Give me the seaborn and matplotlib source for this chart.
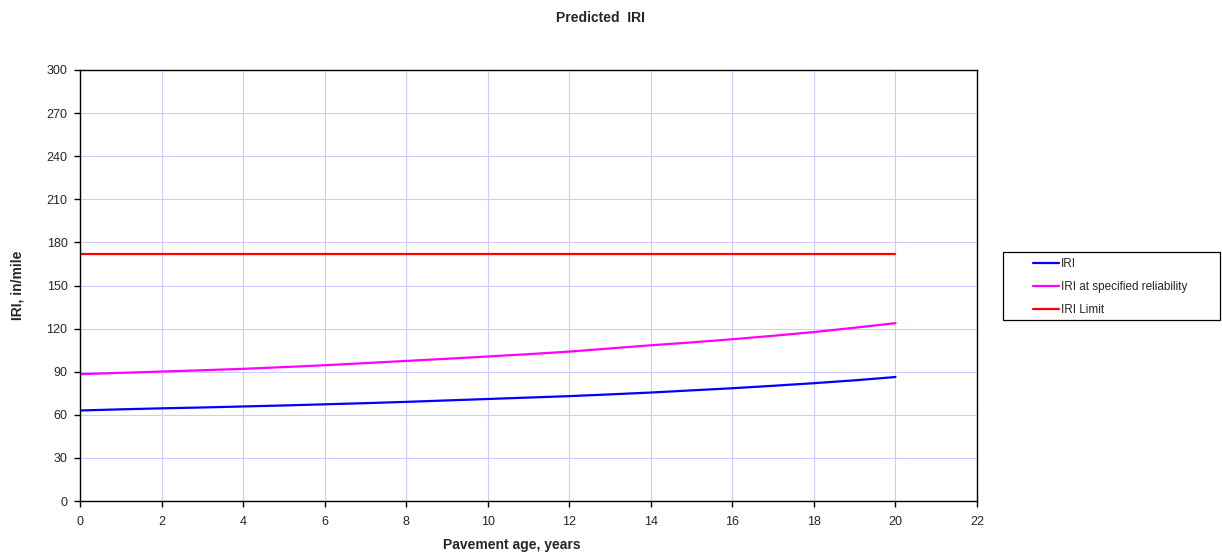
import matplotlib
matplotlib.use("Agg")
import matplotlib.pyplot as plt
from matplotlib.patches import Rectangle
import seaborn as sns
import pandas as pd

years = [0, 1, 2, 3, 4, 5, 6, 7, 8, 9, 10, 11, 12, 13, 14, 15, 16, 17, 18, 19, 20]
iri = [63.0, 63.8, 64.5, 65.1, 65.8, 66.5, 67.3, 68.1, 69.0, 70.0, 71.0, 72.0, 73.0, 74.2, 75.5, 77.0, 78.5, 80.2, 82.0, 84.0, 86.3]
iri_rel = [88.3, 89.2, 90.1, 91.0, 92.0, 93.2, 94.5, 96.0, 97.5, 99.0, 100.6, 102.2, 104.0, 106.2, 108.4, 110.4, 112.6, 115.0, 117.6, 120.6, 123.8]
iri_limit = [172.0] * len(years)

series_names = ["IRI", "IRI at specified reliability", "IRI Limit"]
series_colors = ["#0000ff", "#ff00ff", "#ff0000"]

df = pd.DataFrame({
    "age": years * 3,
    "value": iri + iri_rel + iri_limit,
    "series": [series_names[0]] * len(years) + [series_names[1]] * len(years) + [series_names[2]] * len(years),
})

sns.set_style("white")
plt.rcParams["font.family"] = ["Liberation Sans", "DejaVu Sans"]

W, H = 1222, 556
fig = plt.figure(figsize=(W / 100, H / 100), dpi=100)
ax = fig.add_axes([80 / W, 1 - 501 / H, 897 / W, 431 / H])

sns.lineplot(data=df, x="age", y="value", hue="series", palette=dict(zip(series_names, series_colors)),
             linewidth=1.6, ax=ax, legend=False)

ax.set_xlim(0, 22)
ax.set_ylim(0, 300)
ax.set_xticks(range(0, 23, 2))
ax.set_yticks(range(0, 301, 30))
ax.grid(True, color="#ccccff", linewidth=0.8)
ax.set_axisbelow(True)
for s in ax.spines.values():
    s.set_color("black")
    s.set_linewidth(1.0)
ax.tick_params(axis="both", direction="out", length=4, width=1, color="black", labelsize=9,
               bottom=True, left=True)
ax.tick_params(axis="x", pad=7)
ax.tick_params(axis="y", pad=5)
ax.set_xlabel("Pavement age, years", fontsize=10, fontweight="bold")
ax.set_ylabel("IRI, in/mile", fontsize=10, fontweight="bold")
ax.xaxis.set_label_coords((512 - 80) / 897, -(545 - 501) / 431, transform=ax.transAxes)
ax.yaxis.set_label_coords(-(80 - 17) / 897, 0.5, transform=ax.transAxes)
ax.xaxis.label.set_va("center")
ax.yaxis.label.set_va("center")
fig.text(600 / W, 1 - 18 / H, "Predicted  IRI", fontsize=10, fontweight="bold", ha="center", va="center")

# legend box
fig.patches.append(Rectangle((1003 / W, 1 - 320 / H), (1220 - 1003) / W, 68 / H,
                             transform=fig.transFigure, fill=False, edgecolor="black", linewidth=0.9))
handles = [plt.Line2D([], [], color=c, linewidth=1.6) for c in series_colors]
leg = fig.legend(handles, series_names, loc="upper left", bbox_to_anchor=(1033 / W, 1 - 258 / H),
                 frameon=False, fontsize=8.5, handlelength=2.2, handletextpad=0.2,
                 borderpad=0, labelspacing=0.95, borderaxespad=0)

fig.savefig("out.png", dpi=100)
